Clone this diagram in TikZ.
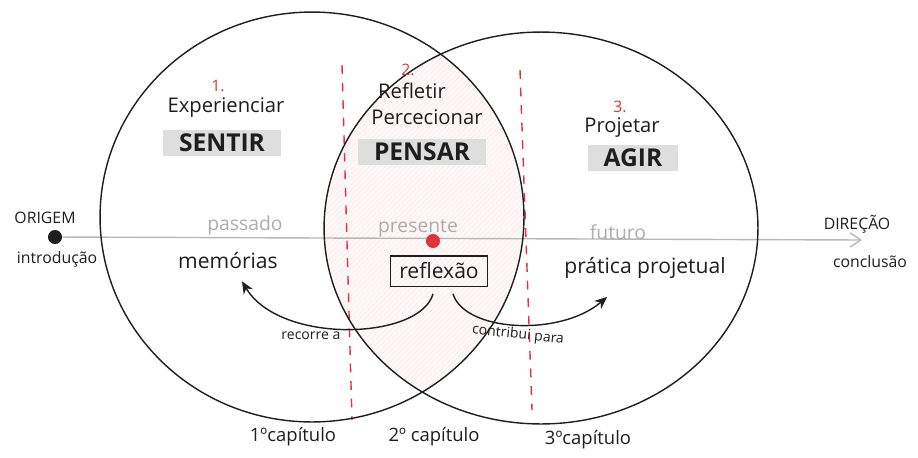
\documentclass[tikz,border=0pt]{standalone}
\usepackage{fontspec}
\setmainfont{Open Sans}
\usetikzlibrary{arrows.meta,positioning,patterns}
\definecolor{pen}{HTML}{1E1E1E}
\definecolor{marker}{HTML}{E2323C}

\begin{document}
\begin{tikzpicture}[x=0.02cm, y=-0.02cm,
  word/.style={font=\fontsize{11.5}{13}\selectfont, text=pen, inner sep=1pt},
  verb/.style={font=\fontsize{14}{16}\selectfont\bfseries, text=pen, fill=black!13,
               inner xsep=9pt, inner ysep=2.5pt},
  num/.style={font=\fontsize{9}{10}\selectfont, text=marker},
  tense/.style={font=\fontsize{11}{13}\selectfont, text=black!32, inner sep=1pt},
  small/.style={font=\fontsize{8}{9}\selectfont, text=pen, inner sep=1pt},
  chap/.style={font=\fontsize{10.5}{12}\selectfont, text=pen},
  arr/.style={-{Stealth[length=7pt,width=6pt]}, thick, pen},
  divider/.style={marker, thick, dash pattern=on 5pt off 5pt},
  circ/.style={draw=pen, thick}
]
  \useasboundingbox (0,0) rectangle (918,457);

  \begin{scope}
    \clip (312,217) ellipse [x radius=4.24cm, y radius=4.1cm];
    \fill[marker!3] (541,228) ellipse [x radius=4.34cm, y radius=3.92cm];
    \fill[pattern=north east lines, pattern color=marker!10] (541,228) ellipse [x radius=4.34cm, y radius=3.92cm];
  \end{scope}

  \draw[divider] (342,65) -- (352,420);
  \draw[divider] (520,70) -- (532,410);

  \node[circle, fill=pen, inner sep=0pt, minimum size=8pt] (origem) at (55,237) {};
  \coordinate (fim) at (862,240);
  \draw[black!28, thick, -{Straight Barb[length=6pt,width=8pt]}] (origem) -- (fim);

  \draw[circ] (312,217) ellipse [x radius=4.24cm, y radius=4.1cm];
  \draw[circ] (541,228) ellipse [x radius=4.34cm, y radius=3.92cm];

  \node[num] (n1) at (218,86) {1.};
  \node[word] (experienciar) at (226,108) {Experienciar};
  \node[verb] (sentir) at (222,143) {SENTIR};

  \node[num] (n2) at (408,70) {2.};
  \node[word] (refletir) at (412,91) {Refletir};
  \node[word] (percecionar) at (427,117) {Percecionar};
  \node[verb] (pensar) at (422,152) {PENSAR};

  \node[num] (n3) at (620,107) {3.};
  \node[word] (projetar) at (622,128) {Projetar};
  \node[verb] (agir) at (633,158) {AGIR};

  \node[small, font=\fontsize{9}{10}\selectfont] (lorigem) at (45,218) {ORIGEM};
  \node[small, font=\fontsize{9}{10}\selectfont] (introducao) at (57,259) {introdução};
  \node[small, font=\fontsize{9}{10}\selectfont] (direcao) at (857,224) {DIREÇÃO};
  \node[small, font=\fontsize{9}{10}\selectfont] (conclusao) at (870,262) {conclusão};

  \node[tense] (passado) at (245,225) {passado};
  \node[tense] (presente) at (418,228) {presente};
  \node[tense] (futuro) at (618,232) {futuro};

  \node[circle, fill=marker, inner sep=0pt, minimum size=8pt] (agora) at (433,241) {};

  \node[word, font=\fontsize{12}{14}\selectfont] (memorias) at (228,261) {memórias};
  \node[word, draw=pen, thick, inner xsep=5pt, inner ysep=4pt,
        font=\fontsize{12}{14}\selectfont] (reflexao) at (439,271) {reflexão};
  \node[word, font=\fontsize{12}{14}\selectfont] (pratica) at (645,268) {prática projetual};

  \draw[arr] ([xshift=-0.12cm,yshift=-0.14cm]reflexao.south) .. controls (420,340) and (280,345) .. ([xshift=0.28cm,yshift=-0.2cm]memorias.south);
  \draw[arr] ([xshift=0.28cm,yshift=-0.14cm]reflexao.south) .. controls (465,332) and (560,337) .. (607,297);

  \node[small] (recorre) at (311,336) {recorre a};
  \node[small, rotate=-6] (contribui) at (518,335) {contribui para};

  \node[chap] (cap1) at (293,437) {1ºcapítulo};
  \node[chap] (cap2) at (434,437) {2º capítulo};
  \node[chap] (cap3) at (588,440) {3ºcapítulo};
\end{tikzpicture}
\end{document}
